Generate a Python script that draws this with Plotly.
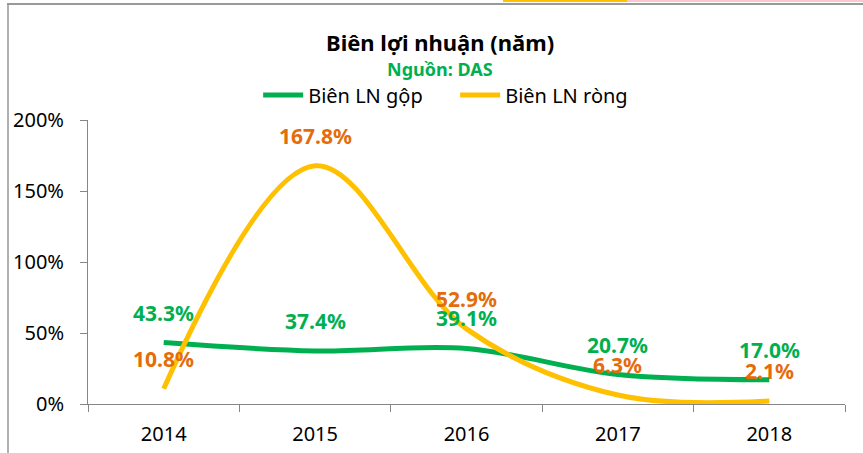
import plotly.graph_objects as go

years = ["2014", "2015", "2016", "2017", "2018"]
gross_margin = [0.433, 0.374, 0.391, 0.207, 0.170]
net_margin = [0.108, 1.678, 0.529, 0.063, 0.021]
gross_labels = ["43.3%", "37.4%", "39.1%", "20.7%", "17.0%"]
net_labels = ["10.8%", "167.8%", "52.9%", "6.3%", "2.1%"]

GREEN = "#00B050"
YELLOW = "#FFC000"
ORANGE = "#E46C0A"
FONT = "Noto Sans"

fig = go.Figure()
fig.add_trace(go.Scatter(x=years, y=gross_margin, mode="lines", name="Biên LN gộp",
                         line=dict(color=GREEN, width=5, shape="spline", smoothing=1)))
fig.add_trace(go.Scatter(x=years, y=net_margin, mode="lines", name="Biên LN ròng",
                         line=dict(color=YELLOW, width=5, shape="spline", smoothing=1)))

annotations = []
for i, (v, t) in enumerate(zip(gross_margin, gross_labels)):
    annotations.append(dict(x=i, y=v, xref="x", yref="y", text=t, showarrow=False, yshift=30,
                            font=dict(family=FONT, size=21, color=GREEN, weight="bold")))
for i, (v, t) in enumerate(zip(net_margin, net_labels)):
    annotations.append(dict(x=i, y=v, xref="x", yref="y", text=t, showarrow=False, yshift=30,
                            font=dict(family=FONT, size=21, color=ORANGE, weight="bold")))

annotations.append(dict(xref="paper", yref="paper", x=0.465, y=1.275, text="Biên lợi nhuận (năm)",
                        showarrow=False, xanchor="center", yanchor="middle",
                        font=dict(family=FONT, size=22, color="black", weight="bold")))
annotations.append(dict(xref="paper", yref="paper", x=0.465, y=1.18, text="Nguồn: DAS",
                        showarrow=False, xanchor="center", yanchor="middle",
                        font=dict(family=FONT, size=18, color=GREEN, weight="bold")))

W, H = 863, 453
L, R, T, B = 88, 18, 120, 49
pw, ph = W - L - R, H - T - B

def px(p):
    return (p - L) / pw

def py(q):
    return (H - B - q) / ph

shapes = [
    dict(type="line", xref="paper", yref="paper", x0=px(8), x1=px(8), y0=py(4), y1=py(460),
         line=dict(color="#B0B0B0", width=2)),
    dict(type="line", xref="paper", yref="paper", x0=px(7), x1=px(870), y0=py(4), y1=py(4),
         line=dict(color="#999999", width=2)),
    dict(type="rect", xref="paper", yref="paper", x0=px(503), x1=px(627), y0=py(0), y1=py(2),
         line=dict(width=0), fillcolor=YELLOW),
    dict(type="rect", xref="paper", yref="paper", x0=px(627), x1=px(870), y0=py(0), y1=py(2),
         line=dict(width=0), fillcolor="#F8C8CC"),
]

fig.update_layout(
    width=W, height=H,
    margin=dict(l=L, r=R, t=T, b=B, autoexpand=False),
    paper_bgcolor="white", plot_bgcolor="white",
    font=dict(family=FONT, size=20, color="black"),
    showlegend=True,
    legend=dict(orientation="h", x=0.485, xanchor="center", y=py(95), yanchor="middle",
                font=dict(family=FONT, size=20, color="black"), bgcolor="rgba(0,0,0,0)",
                itemwidth=40, entrywidth=142, tracegroupgap=0),
    annotations=annotations,
    shapes=shapes,
    xaxis=dict(type="category", range=[-0.5, 4.5], showgrid=False, showline=True, automargin=False,
               linecolor="#868686", linewidth=1, ticks="outside", tickson="boundaries",
               ticklen=7, tickcolor="#868686", ticklabelstandoff=12,
               tickfont=dict(family=FONT, size=20, color="black")),
    yaxis=dict(range=[0, 2.0], dtick=0.5, tickformat=".0%", showgrid=False, showline=True,
               automargin=False,
               linecolor="#868686", linewidth=1, ticks="outside", ticklen=7, tickcolor="#868686",
               ticklabelstandoff=12, zeroline=False,
               tickfont=dict(family=FONT, size=20, color="black")),
)

fig.write_html("out.html", config={"displayModeBar": False},
               post_script="document.body.style.margin='0';document.body.style.overflow='hidden';")
